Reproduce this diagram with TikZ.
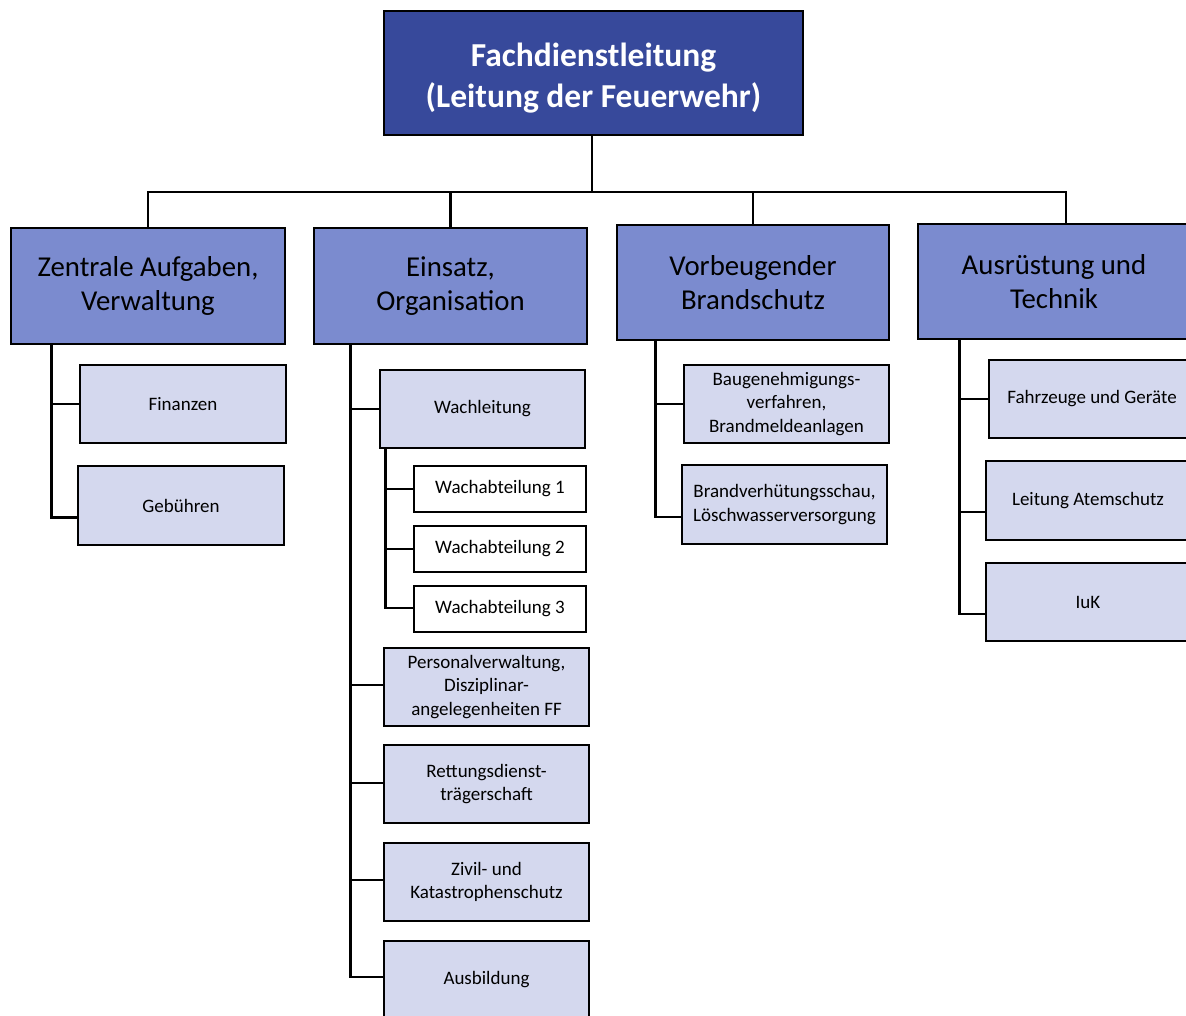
\documentclass[tikz,border=0pt]{standalone}
\usepackage{fontspec}
\setmainfont{Carlito}
\usetikzlibrary{calc}
\definecolor{topblue}{RGB}{55,73,155}
\definecolor{midblue}{RGB}{123,139,207}
\definecolor{lightblue}{RGB}{212,216,238}
\begin{document}
\begin{tikzpicture}[x=1pt,y=-1pt,
  base/.style={draw=black, line width=2.6pt, rectangle, inner sep=0pt, align=center},
  topbox/.style={base, fill=topblue, text=white, font=\fontsize{33.5}{41}\selectfont\bfseries, minimum width=419pt, minimum height=124pt},
  headbox/.style={base, fill=midblue, text=black, font=\fontsize{28.8}{34}\selectfont, minimum width=273pt, minimum height=116pt},
  subbox/.style={base, fill=lightblue, text=black, font=\fontsize{19}{23.5}\selectfont, minimum width=205pt, minimum height=78pt},
  wabox/.style={base, fill=white, text=black, font=\fontsize{19}{23.5}\selectfont, minimum width=172pt, minimum height=46pt},
  conn/.style={draw=black, line width=2.6pt}]
\clip (0,0) rectangle (1186,1016);
\fill[white] (0,0) rectangle (1186,1016);

% top
\node[topbox] (top) at (593.5,73) {\rule{0pt}{33pt}Fachdienstleitung\\(Leitung der Feuerwehr)};
% level 2
\node[headbox, minimum width=274pt] (A) at (148,286) {Zentrale Aufgaben,\\Verwaltung};
\node[headbox] (B) at (450.5,286) {Einsatz,\\Organisation};
\node[headbox, minimum width=272pt, minimum height=115pt] (C) at (753,282.5) {Vorbeugender\\Brandschutz};
\node[headbox, minimum width=272pt, minimum height=115pt] (D) at (1054,281.5) {Ausrüstung und\\Technik};

% bus
\coordinate (bus) at (592,192);
\draw[conn] ($(top.south)+(-1.5,0)$) -- (bus);
\draw[conn] (A.north) |- (bus);
\draw[conn] (bus) -| ($(D.north)+(12,0)$);
\draw[conn] (B.north) -- (B.north |- bus);
\draw[conn] (C.north) -- (C.north |- bus);

% A children
\node[subbox, minimum width=206pt] (fin) at (183,404) {Finanzen};
\node[subbox, minimum width=206pt, minimum height=79pt] (geb) at (181,505.5) {Gebühren};
\draw[conn] ($(A.south west)+(42,0)$) |- (fin.west);
\draw[conn] ($(A.south west)+(42,0)$) |- ($(geb.west)+(0,12)$);

% B children
\node[subbox] (wl) at (482.5,409) {Wachleitung};
\node[wabox] (wa1) at (500,489) {Wachabteilung 1};
\node[wabox] (wa2) at (500,549) {Wachabteilung 2};
\node[wabox] (wa3) at (500,609) {Wachabteilung 3};
\node[subbox] (pv) at (486.5,687) {Personalverwaltung,\\Disziplinar-\\angelegenheiten FF};
\node[subbox] (rd) at (486.5,784) {Rettungsdienst-\\trägerschaft};
\node[subbox] (zk) at (486.5,882) {Zivil- und\\Katastrophenschutz};
\node[subbox] (ab) at (486.5,980) {Ausbildung};
\draw[conn] ($(B.south west)+(38,0)$) |- (wl.west);
\draw[conn] ($(B.south west)+(38,0)$) |- ($(pv.west)+(0,-2)$);
\draw[conn] ($(B.south west)+(38,0)$) |- ($(rd.west)+(0,-1)$);
\draw[conn] ($(B.south west)+(38,0)$) |- ($(zk.west)+(0,-2)$);
\draw[conn] ($(B.south west)+(38,0)$) |- ($(ab.west)+(0,-3)$);
\draw[conn] ($(wl.south west)+(7,0)$) |- (wa1.west);
\draw[conn] ($(wl.south west)+(7,0)$) |- (wa2.west);
\draw[conn] ($(wl.south west)+(7,0)$) |- ($(wa3.west)+(0,-1)$);

% C children
\node[subbox] (bg) at (786.5,404) {Baugenehmigungs-\\verfahren,\\Brandmeldeanlagen};
\node[subbox, minimum height=79pt] (bv) at (784.5,504.5) {Brandverhütungsschau,\\Löschwasserversorgung};
\draw[conn] ($(C.south west)+(40,0)$) |- (bg.west);
\draw[conn] ($(C.south west)+(40,0)$) |- ($(bv.west)+(0,12.5)$);

% D children
\node[subbox, minimum width=206pt] (fz) at (1092,399) {Fahrzeuge und Geräte};
\node[subbox, minimum width=204pt, minimum height=79pt] (la) at (1088,500.5) {Leitung Atemschutz};
\node[subbox, minimum width=204pt] (iuk) at (1088,602) {IuK};
\draw[conn] ($(D.south west)+(43,0)$) |- (fz.west);
\draw[conn] ($(D.south west)+(43,0)$) |- ($(la.west)+(0,11.5)$);
\draw[conn] ($(D.south west)+(43,0)$) |- ($(iuk.west)+(0,12)$);
\end{tikzpicture}
\end{document}
